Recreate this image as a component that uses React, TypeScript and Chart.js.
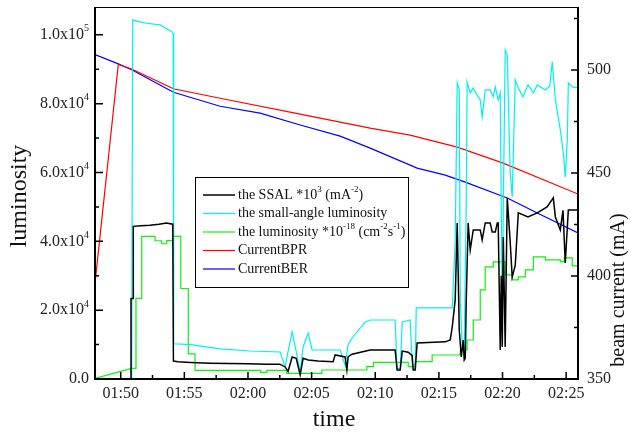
import React, { useEffect, useRef } from 'react';
import { Chart, registerables } from 'chart.js';

Chart.register(...registerables);

const FONT = '"Liberation Serif", "Times New Roman", "DejaVu Serif", serif';

// time axis: minutes after 01:00
const X_MIN = 47.98;
const X_MAX = 85.93;
const X_MAJOR = [50, 55, 60, 65, 70, 75, 80, 85];
const X_LABELS = ['01:50', '01:55', '02:00', '02:05', '02:10', '02:15', '02:20', '02:25'];
const X_MINOR = [52.5, 57.5, 62.5, 67.5, 72.5, 77.5, 82.5];

// luminosity axis (left)
const Y_MIN = 0;
const Y_MAX = 108100;
const Y_MAJOR = [0, 20000, 40000, 60000, 80000, 100000];
const Y_MANT = ['0.0', '2.0', '4.0', '6.0', '8.0', '1.0'];
const Y_EXP = ['', '4', '4', '4', '4', '5'];
const Y_MINOR = [10000, 30000, 50000, 70000, 90000];

// beam current axis (right)
const Y1_MIN = 350;
const Y1_MAX = 530.6;
const Y1_MAJOR = [350, 400, 450, 500];
const Y1_MINOR = [375, 425, 475, 525];

// the SSAL *10^3 (mA^-2)  [time, value]
const SSAL: [number, number][] = [
  [50.81, 0], [50.81, 23400], [50.99, 23400], [50.99, 44360], [51.6, 44500], [52.3, 44700], [53.0, 45000],
  [53.6, 45350], [54.09, 45000], [54.14, 5200], [54.5, 5000], [55.5, 4800], [57.0, 4600], [58.5, 4500],
  [60.0, 4400], [61.5, 4300], [62.5, 4300], [62.92, 3500], [63.15, 2200], [63.47, 6400], [63.79, 6000],
  [64.1, 1200], [64.33, 6000], [64.73, 5500], [65.5, 5200], [66.69, 5000], [66.85, 7000], [67.63, 6400],
  [67.77, 2600], [67.87, 6500], [68.18, 7200], [69.6, 8430], [71.56, 8430], [71.72, 2600], [71.96, 2600],
  [72.12, 8100], [72.59, 7800], [72.9, 6800], [72.98, 2600], [73.14, 2600], [73.29, 10470], [75.5, 10800],
  [75.89, 11340], [76.05, 15120], [76.28, 22970], [76.44, 45350], [76.6, 14240], [76.76, 6400], [76.91, 11340],
  [76.99, 5500], [77.07, 6000], [77.15, 22970], [77.3, 45350], [77.46, 37500], [77.7, 43310], [78.25, 43310],
  [78.4, 40410], [78.64, 45350], [79.03, 45350], [79.19, 42730], [79.43, 42730], [79.59, 45350], [79.66, 45350],
  [79.82, 8430], [79.9, 30000], [79.98, 9300], [80.06, 41280], [80.21, 9300], [80.37, 52620], [80.6, 40000],
  [80.76, 29650], [81.0, 33000], [81.24, 48260], [82.0, 47090], [82.73, 48260], [83.5, 50000], [83.99, 52620],
  [84.15, 47090], [84.54, 43310], [84.75, 49000], [84.93, 33720], [85.17, 49130], [85.93, 49130],
];

// the small-angle luminosity
const SMALL_ANGLE: [number, number][] = [
  [50.86, 0], [50.94, 104360], [51.5, 103800], [52.04, 103370], [53.09, 102900], [54.01, 100930], [54.12, 100500],
  [54.16, 10230], [55.5, 10000], [57.81, 8750], [60.17, 8140], [62.52, 7850], [62.92, 3500], [63.15, 8000],
  [63.47, 13660], [63.79, 8000], [64.1, 2030], [64.33, 9300], [64.73, 13370], [65.04, 8430], [67.24, 8430],
  [67.63, 4000], [67.87, 10000], [68.18, 11920], [69.21, 16570], [69.6, 17150], [71.56, 17150], [71.72, 3000],
  [71.96, 3000], [72.12, 16570], [72.74, 17150], [72.9, 5000], [72.98, 3000], [73.14, 3000], [73.22, 20640],
  [76.05, 20640], [76.28, 40000], [76.44, 86050], [76.6, 84010], [76.68, 22970], [76.83, 9880], [76.99, 8430],
  [77.15, 52000], [77.22, 86340], [77.46, 83140], [77.7, 84590], [78.0, 82500], [78.25, 81110], [78.4, 76160],
  [78.64, 84010], [79.03, 84010], [79.27, 81980], [79.43, 84880], [79.66, 81110], [79.82, 83140], [79.98, 18020],
  [80.06, 50000], [80.21, 95640], [80.37, 94190], [80.6, 60000], [80.76, 52910], [81.0, 86920], [81.24, 84590],
  [81.6, 82000], [82.0, 85470], [82.42, 83140], [82.73, 85470], [83.36, 84010], [83.7, 85000], [83.91, 92150],
  [84.15, 81110], [84.54, 72380], [84.8, 65000], [84.93, 58720], [85.09, 69480], [85.17, 86050], [85.5, 84880],
  [85.93, 84590],
];

// the luminosity *10^-18 (cm^-2 s^-1)
const LUMINOSITY: [number, number][] = [
  [47.98, 170], [50.86, 3110], [51.2, 3110], [51.2, 23400], [51.65, 23400], [51.65, 41425], [52.7, 41425],
  [52.7, 40170], [53.22, 40170], [53.22, 39300], [53.62, 39300], [53.62, 40200], [54.14, 40200], [54.14, 41425],
  [54.72, 41425], [54.72, 26300], [55.31, 26300], [55.31, 7300], [55.84, 7300], [55.84, 2500], [61.0, 2500],
  [61.0, 1950], [61.48, 1950], [61.48, 2500], [63.05, 2500], [63.05, 1660], [65.8, 1660], [65.8, 2616],
  [69.34, 2616], [69.34, 3575], [69.86, 3575], [69.86, 4855], [72.59, 4855], [72.59, 3575], [73.14, 3575],
  [73.14, 5030], [74.47, 5030], [74.47, 6977], [76.68, 6977], [76.68, 8430], [77.22, 8430], [77.22, 11337],
  [77.7, 11337], [77.7, 17150], [78.25, 17150], [78.25, 25870], [78.64, 25870], [78.64, 32560], [79.27, 32560],
  [79.27, 34010], [80.21, 34010], [80.21, 30230], [80.76, 30230], [80.76, 28780], [81.24, 28780], [81.24, 29650],
  [81.79, 29650], [81.79, 31690], [82.42, 31690], [82.42, 35465], [83.36, 35465], [83.36, 34590], [84.54, 34590],
  [84.54, 34100], [84.85, 34100], [84.85, 35175], [85.48, 35175], [85.48, 32850], [85.93, 32850],
];

// CurrentBPR (mA)
const CURRENT_BPR: [number, number][] = [
  [47.98, 396.4], [49.81, 502.7], [50.86, 500.5], [54.14, 490.9], [57.81, 486.3], [64.1, 478.6],
  [69.6, 471.8], [72.74, 468.4], [76.44, 462.6], [80.05, 454.8], [85.93, 439.8],
];

// CurrentBER (mA)
const CURRENT_BER: [number, number][] = [
  [47.98, 507.5], [49.81, 503.0], [50.86, 500.1], [54.14, 489.2], [57.81, 482.4], [60.95, 479.1],
  [64.1, 473.3], [67.24, 467.9], [69.6, 462.1], [73.29, 452.4], [75.5, 449.0], [77.07, 445.6],
  [80.37, 437.9], [82.73, 430.6], [85.93, 420.9],
];

type Part = { t: string; sup?: boolean };

const LEGEND_COLORS = ['#000000', '#00f0f0', '#11ee11', '#ff0000', '#0000ff'];
const LEGEND_TEXT: Part[][] = [
  [{ t: 'the SSAL *10' }, { t: '3', sup: true }, { t: ' (mA' }, { t: '-2', sup: true }, { t: ')' }],
  [{ t: 'the small-angle luminosity' }],
  [{ t: 'the luminosity *10' }, { t: '-18', sup: true }, { t: ' (cm' }, { t: '-2', sup: true }, { t: 's' }, { t: '-1', sup: true }, { t: ')' }],
  [{ t: 'CurrentBPR' }],
  [{ t: 'CurrentBER' }],
];

function drawRich(ctx: CanvasRenderingContext2D, x: number, y: number, parts: Part[], size: number, align: 'left' | 'right') {
  const supSize = Math.round(size * 0.62);
  const widths = parts.map((p) => {
    ctx.font = `${p.sup ? supSize : size}px ${FONT}`;
    return ctx.measureText(p.t).width;
  });
  const total = widths.reduce((a, b) => a + b, 0);
  let cx = align === 'right' ? x - total : x;
  ctx.textAlign = 'left';
  ctx.textBaseline = 'middle';
  parts.forEach((p, i) => {
    ctx.font = `${p.sup ? supSize : size}px ${FONT}`;
    ctx.fillText(p.t, cx, p.sup ? y - size * 0.38 : y);
    cx += widths[i];
  });
}

const overlay = {
  id: 'overlay',
  afterDatasetsDraw(chart: any) {
    const { ctx, chartArea: a, scales } = chart;
    const sx = scales.x, sy = scales.y, sy1 = scales.y1;
    ctx.save();

    // legend box
    const lx = 195.5, ly = 177.5, lw = 213, lh = 110;
    ctx.fillStyle = '#ffffff';
    ctx.fillRect(lx, ly, lw, lh);
    ctx.strokeStyle = '#000';
    ctx.lineWidth = 1;
    ctx.strokeRect(lx, ly, lw, lh);
    const rows = [195, 213.5, 232, 250.5, 269];
    rows.forEach((ry, i) => {
      ctx.strokeStyle = LEGEND_COLORS[i];
      ctx.lineWidth = i === 0 ? 1.5 : 1.2;
      ctx.beginPath();
      ctx.moveTo(203, ry);
      ctx.lineTo(235, ry);
      ctx.stroke();
      ctx.fillStyle = '#111';
      drawRich(ctx, 238, ry, LEGEND_TEXT[i], 14, 'left');
    });

    // frame
    ctx.strokeStyle = '#000';
    ctx.lineWidth = 2;
    ctx.beginPath();
    ctx.moveTo(a.left, a.top);
    ctx.lineTo(a.left, a.bottom);
    ctx.lineTo(a.right, a.bottom);
    ctx.lineTo(a.right, a.top);
    ctx.stroke();
    ctx.lineWidth = 1;
    ctx.beginPath();
    ctx.moveTo(a.left, a.top + 0.5);
    ctx.lineTo(a.right, a.top + 0.5);
    ctx.stroke();

    // ticks (inward)
    ctx.lineWidth = 1.5;
    ctx.beginPath();
    X_MAJOR.forEach((v) => { const px = sx.getPixelForValue(v); ctx.moveTo(px, a.bottom); ctx.lineTo(px, a.bottom - 7); });
    X_MINOR.forEach((v) => { const px = sx.getPixelForValue(v); ctx.moveTo(px, a.bottom); ctx.lineTo(px, a.bottom - 4); });
    Y_MAJOR.forEach((v) => { const py = sy.getPixelForValue(v); ctx.moveTo(a.left, py); ctx.lineTo(a.left + 8, py); });
    Y_MINOR.forEach((v) => { const py = sy.getPixelForValue(v); ctx.moveTo(a.left, py); ctx.lineTo(a.left + 4, py); });
    Y1_MAJOR.forEach((v) => { const py = sy1.getPixelForValue(v); ctx.moveTo(a.right, py); ctx.lineTo(a.right - 7, py); });
    Y1_MINOR.forEach((v) => { const py = sy1.getPixelForValue(v); ctx.moveTo(a.right, py); ctx.lineTo(a.right - 4, py); });
    ctx.stroke();

    // tick labels
    ctx.fillStyle = '#222';
    ctx.font = `16px ${FONT}`;
    ctx.textAlign = 'center';
    ctx.textBaseline = 'middle';
    X_MAJOR.forEach((v, i) => ctx.fillText(X_LABELS[i], sx.getPixelForValue(v), a.bottom + 15));
    Y_MAJOR.forEach((v, i) => {
      const py = sy.getPixelForValue(v);
      const parts: Part[] = Y_EXP[i] ? [{ t: Y_MANT[i] + 'x10' }, { t: Y_EXP[i], sup: true }] : [{ t: Y_MANT[i] }];
      drawRich(ctx, 89, py, parts, 16, 'right');
    });
    ctx.font = `16px ${FONT}`;
    ctx.textAlign = 'left';
    Y1_MAJOR.forEach((v) => ctx.fillText(String(v), a.right + 9, sy1.getPixelForValue(v)));

    // axis titles
    ctx.fillStyle = '#111';
    ctx.textAlign = 'center';
    ctx.textBaseline = 'middle';
    ctx.font = `24px ${FONT}`;
    ctx.fillText('time', 334, 420);
    ctx.save();
    ctx.translate(20, 196);
    ctx.rotate(-Math.PI / 2);
    ctx.fillText('luminosity', 0, 0);
    ctx.restore();
    ctx.save();
    ctx.translate(619, 290);
    ctx.rotate(-Math.PI / 2);
    ctx.font = `20px ${FONT}`;
    ctx.fillText('beam current (mA)', 0, 0);
    ctx.restore();

    ctx.restore();
  },
};

const toXY = (arr: [number, number][]) => arr.map(([x, y]) => ({ x, y }));

export default function App() {
  const ref = useRef<HTMLCanvasElement | null>(null);
  useEffect(() => {
    if (!ref.current) return;
    const line = (label: string, data: [number, number][], color: string, axis: string, width: number) => ({
      label,
      data: toXY(data),
      borderColor: color,
      backgroundColor: color,
      borderWidth: width,
      pointRadius: 0,
      tension: 0,
      fill: false,
      yAxisID: axis,
    });
    const chart = new Chart(ref.current, {
      type: 'line',
      data: {
        datasets: [
          line('the SSAL *10^3 (mA^-2)', SSAL, LEGEND_COLORS[0], 'y', 1.5),
          line('the small-angle luminosity', SMALL_ANGLE, LEGEND_COLORS[1], 'y', 1.2),
          line('the luminosity *10^-18 (cm^-2s^-1)', LUMINOSITY, LEGEND_COLORS[2], 'y', 1.2),
          line('CurrentBPR', CURRENT_BPR, LEGEND_COLORS[3], 'y1', 1.2),
          line('CurrentBER', CURRENT_BER, LEGEND_COLORS[4], 'y1', 1.2),
        ] as any,
      },
      options: {
        responsive: false,
        animation: false,
        devicePixelRatio: 1,
        layout: { padding: { top: 7, left: 0, right: 0, bottom: 0 } },
        plugins: { legend: { display: false }, tooltip: { enabled: false } },
        scales: {
          x: {
            type: 'linear', min: X_MIN, max: X_MAX,
            grid: { display: false, drawTicks: false }, border: { display: false }, ticks: { display: false },
            afterFit: (s: any) => { s.height = 58; },
          },
          y: {
            type: 'linear', position: 'left', min: Y_MIN, max: Y_MAX,
            grid: { display: false, drawTicks: false }, border: { display: false }, ticks: { display: false },
            afterFit: (s: any) => { s.width = 95; },
          },
          y1: {
            type: 'linear', position: 'right', min: Y1_MIN, max: Y1_MAX,
            grid: { display: false, drawTicks: false }, border: { display: false }, ticks: { display: false },
            afterFit: (s: any) => { s.width = 53; },
          },
        },
      } as any,
      plugins: [overlay],
    });
    return () => chart.destroy();
  }, []);
  return (
    <div style={{ position: 'fixed', left: 0, top: 0, width: 631, height: 437, background: '#fff' }}>
      <canvas ref={ref} width={631} height={437} style={{ display: 'block' }} />
    </div>
  );
}
